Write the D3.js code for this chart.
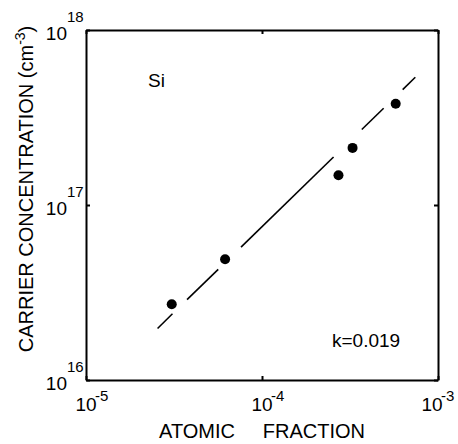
<!DOCTYPE html>
<html>
<head>
<meta charset="utf-8">
<script src="https://cdn.jsdelivr.net/npm/d3@7"></script>
<style>
    body { margin: 0; background: #fff; }
    svg text { font-family: "Liberation Sans", Arial, sans-serif; fill: #000; }
</style>
</head>
<body>
<div id="example"></div>
<script>
    // measured points (atomic fraction, carrier concentration cm^-3)
    var fraction = [3.07e-5, 6.17e-5, 2.72e-4, 3.27e-4, 5.75e-4],
        carriers = [2.71e16, 4.9e16, 1.48e17, 2.12e17, 3.79e17];

    // fitted line, drawn as broken pieces [x0, y0, x1, y1]
    var fitPieces = [
        [2.55e-5, 1.97e16, 3.10e-5, 2.39e16],
        [3.75e-5, 2.88e16, 5.64e-5, 4.29e16],
        [7.60e-5, 5.74e16, 2.55e-4, 1.88e17],
        [3.69e-4, 2.70e17, 4.91e-4, 3.57e17],
        [6.30e-4, 4.56e17, 7.43e-4, 5.37e17]
    ];

    var xTicks = [1e-5, 1e-4, 1e-3],
        xExps = ["-5", "-4", "-3"],
        yTicks = [1e16, 1e17, 1e18],
        yExps = ["16", "17", "18"];

    (function () {
        var width = 458,
            height = 444,
            left = 86, right = 438, top = 30, bottom = 380;

        var svg = d3.select("#example").append("svg")
            .attr("width", width)
            .attr("height", height);

        var x = d3.scaleLog().domain([1e-5, 1e-3]).range([left, right]),
            y = d3.scaleLog().domain([1e16, 1e18]).range([bottom, top]);

        function frame(axis, tx, ty) {
            var g = svg.append("g")
                .attr("transform", "translate(" + tx + "," + ty + ")")
                .call(axis.tickSizeInner(-4).tickSizeOuter(0).tickFormat(""));
            g.select(".domain").attr("stroke-width", 2);
            g.selectAll(".tick line").attr("stroke-width", 2);
            return g;
        }

        frame(d3.axisBottom(x).tickValues(xTicks), 0, bottom);
        frame(d3.axisTop(x).tickValues(xTicks), 0, top);
        frame(d3.axisLeft(y).tickValues(yTicks), left, 0);
        frame(d3.axisRight(y).tickValues(yTicks), right, 0);

        // x tick labels (last one pulled in so it stays on the page)
        xTicks.forEach(function (t, i) {
            var cx = Math.min(x(t), width - 26);
            svg.append("text")
                .attr("x", cx).attr("y", bottom + 31)
                .attr("text-anchor", "middle")
                .style("font-size", "19px")
                .text("10");
            svg.append("text")
                .attr("x", cx + 9).attr("y", bottom + 21)
                .style("font-size", "15px")
                .text(xExps[i]);
        });

        // y tick labels
        yTicks.forEach(function (t, i) {
            svg.append("text")
                .attr("x", left - 19).attr("y", y(t) + 10)
                .attr("text-anchor", "end")
                .style("font-size", "19px")
                .text("10");
            svg.append("text")
                .attr("x", left - 19).attr("y", y(t) - 8)
                .style("font-size", "15px")
                .text(yExps[i]);
        });

        svg.selectAll(".fit")
            .data(fitPieces)
            .enter().append("line")
            .attr("class", "fit")
            .attr("x1", function (d) { return x(d[0]); })
            .attr("y1", function (d) { return y(d[1]); })
            .attr("x2", function (d) { return x(d[2]); })
            .attr("y2", function (d) { return y(d[3]); })
            .style("stroke", "#000")
            .style("stroke-width", "1.6px");

        svg.selectAll(".dot")
            .data(fraction)
            .enter().append("circle")
            .attr("class", "dot")
            .attr("cx", function (d) { return x(d); })
            .attr("cy", function (d, i) { return y(carriers[i]); })
            .attr("r", 5)
            .style("fill", "#000");

        svg.append("text")
            .attr("x", 148).attr("y", 87)
            .style("font-size", "19px")
            .text("Si");

        svg.append("text")
            .attr("x", 332).attr("y", 347)
            .style("font-size", "19px")
            .text("k=0.019");

        svg.append("text")
            .attr("x", (left + right) / 2).attr("y", 438)
            .attr("text-anchor", "middle")
            .style("font-size", "20px")
            .style("white-space", "pre")
            .text("ATOMIC     FRACTION");

        var ylab = svg.append("text")
            .attr("transform", "translate(33,189) rotate(-90)")
            .attr("text-anchor", "middle")
            .style("font-size", "20px");
        ylab.append("tspan").text("CARRIER CONCENTRATION (cm");
        ylab.append("tspan").attr("dy", -8).style("font-size", "14px").text("-3");
        ylab.append("tspan").attr("dy", 8).text(")");
    }());
</script>
</body>
</html>
